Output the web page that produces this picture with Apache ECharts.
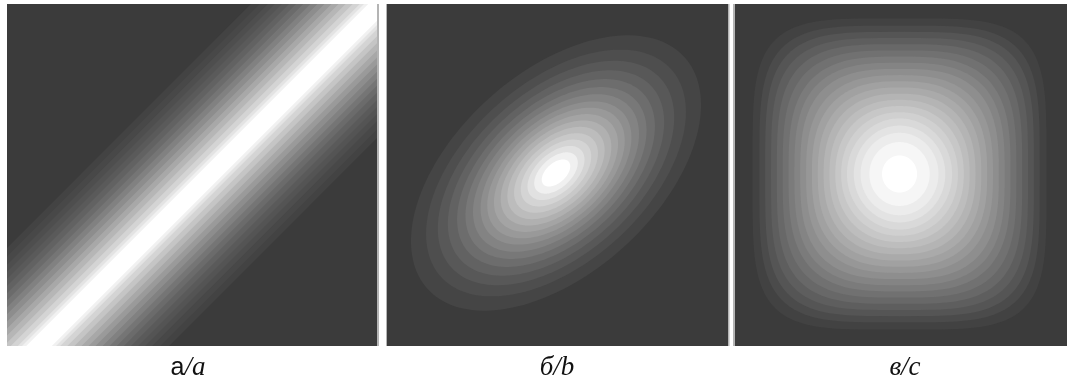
<!DOCTYPE html>
<html>
<head>
<meta charset="utf-8">
<script src="https://cdn.jsdelivr.net/npm/echarts@6/dist/echarts.min.js"></script>
<style>
html,body{margin:0;padding:0;background:#ffffff;}
#chart{width:1067px;height:387px;}
</style>
</head>
<body>
<div id="chart"></div>
<script>
// ---- data (panel units: px inside each panel, y downward) ----
const panelCyrillic = ['а', 'б', 'в'];
const panelLatin = ['a', 'b', 'c'];
const panelWidths = [371, 341, 341];
const panelHeight = 342;

// panel a: straight ridge along the diagonal, level half-widths (perpendicular)
const ridgeCenter = 374; // value of x + y along the ridge crest
const ridgeHalfWidths = [92, 86, 80, 75, 70, 65, 60, 55, 50, 45, 40, 35, 30, 25, 20, 15, 12, 9];
const ridgeGrays = [67, 72, 78, 84, 90, 98, 107, 117, 129, 141, 154, 168, 182, 197, 212, 227, 241, 255];

// panel b: tilted elliptic peak, semi-major axis of each level
const ellipseCenter = [169, 169];
const ellipseAngle = 42;      // degrees above horizontal
const ellipseRatio = 0.58;    // minor / major
const ellipseSemiMajor = [173, 155, 141, 129, 118, 108, 99, 90, 82, 74, 66, 58, 50, 42, 34, 26, 17];
const ellipseGrays = [69, 78, 88, 98, 109, 120, 131, 142, 153, 164, 176, 188, 200, 212, 225, 240, 255];

// panel c: rounded-square peak, horizontal half-width and squareness of each level
const squareCenter = [169, 170];
const squareAspect = 1.03;
const squareHalfWidths = [151, 144, 138, 132, 126, 120, 114, 108, 102, 96, 90, 84, 78, 72, 66, 60, 54, 47, 40, 31, 18];
const squareExponents = [4.4, 4.1, 3.9, 3.7, 3.5, 3.3, 3.1, 3.0, 2.9, 2.7, 2.6, 2.5, 2.4, 2.3, 2.2, 2.1, 2.0, 2.0, 2.0, 2.0, 2.0];
const squareGrays = [66, 75, 85, 94, 104, 113, 123, 132, 142, 151, 161, 170, 180, 189, 199, 208, 217, 227, 236, 246, 255];

const bgColor = '#3b3b3b';
const gray = g => 'rgb(' + g + ',' + g + ',' + g + ')';

const chart = echarts.init(document.getElementById('chart'), null, {renderer: 'canvas'});

const gridLefts = [7, 387, 735];
const grids = gridLefts.map((l, i) => ({
  left: l, top: 4, width: panelWidths[i], height: panelHeight,
  show: true, backgroundColor: bgColor, borderWidth: 0, containLabel: false
}));
const xAxes = panelWidths.map((w, i) => ({type: 'value', gridIndex: i, min: 0, max: w, show: false}));
const yAxes = panelWidths.map((w, i) => ({type: 'value', gridIndex: i, min: 0, max: panelHeight, inverse: true, show: false}));

function ridgeItem(params, api) {
  const k = api.value(0);
  const d = ridgeHalfWidths[k] * Math.SQRT2;
  const lo = ridgeCenter - d, hi = ridgeCenter + d;
  const pts = [[-600, lo + 600], [1000, lo - 1000], [1000, hi - 1000], [-600, hi + 600]].map(p => api.coord(p));
  return {type: 'polygon', shape: {points: pts}, style: {fill: gray(ridgeGrays[k])}};
}
function ellipseItem(params, api) {
  const k = api.value(0);
  const a = ellipseSemiMajor[k], b = a * ellipseRatio;
  const th = ellipseAngle * Math.PI / 180;
  const pts = [];
  for (let i = 0; i < 160; i++) {
    const t = i / 160 * Math.PI * 2;
    const lx = a * Math.cos(t), ly = b * Math.sin(t);
    const x = ellipseCenter[0] + lx * Math.cos(th) - ly * Math.sin(th);
    const y = ellipseCenter[1] - (lx * Math.sin(th) + ly * Math.cos(th));
    pts.push(api.coord([x, y]));
  }
  return {type: 'polygon', shape: {points: pts}, style: {fill: gray(ellipseGrays[k])}};
}
function squareItem(params, api) {
  const k = api.value(0);
  const hx = squareHalfWidths[k], hy = hx * squareAspect, p = squareExponents[k];
  const pts = [];
  for (let i = 0; i < 200; i++) {
    const t = i / 200 * Math.PI * 2;
    const c = Math.cos(t), s = Math.sin(t);
    const x = squareCenter[0] + hx * Math.sign(c) * Math.pow(Math.abs(c), 2 / p);
    const y = squareCenter[1] + hy * Math.sign(s) * Math.pow(Math.abs(s), 2 / p);
    pts.push(api.coord([x, y]));
  }
  return {type: 'polygon', shape: {points: pts}, style: {fill: gray(squareGrays[k])}};
}

const idx = arr => arr.map((_, i) => [i]);

const series = [
  {type: 'custom', xAxisIndex: 0, yAxisIndex: 0, clip: true, renderItem: ridgeItem, data: idx(ridgeHalfWidths), silent: true},
  {type: 'custom', xAxisIndex: 1, yAxisIndex: 1, clip: true, renderItem: ellipseItem, data: idx(ellipseSemiMajor), silent: true},
  {type: 'custom', xAxisIndex: 2, yAxisIndex: 2, clip: true, renderItem: squareItem, data: idx(squareHalfWidths), silent: true}
];

const labelCenters = [188, 557, 905];
const labels = panelCyrillic.map((c, i) => ({
  type: 'text',
  x: labelCenters[i], y: 368,
  style: {
    text: '{cy' + (i === 0 ? 'S' : 'I') + '|' + c + '}{la|/' + panelLatin[i] + '}',
    align: 'center', verticalAlign: 'middle',
    rich: {
      cyS: {fontFamily: 'Liberation Sans', fontSize: 25, fill: '#111', fontWeight: 'normal'},
      cyI: {fontFamily: 'Liberation Serif', fontStyle: 'italic', fontSize: 27, fill: '#111'},
      la: {fontFamily: 'Liberation Serif', fontStyle: 'italic', fontSize: 27, fill: '#111'}
    }
  }
}));

const edges = [
  {x: 377, w: 2}, {x: 386, w: 1}, {x: 728, w: 1.5}, {x: 733, w: 2}
].map(e => ({type: 'rect', shape: {x: e.x, y: 4, width: e.w, height: panelHeight}, style: {fill: '#b4b4b4'}, z: 10}));

chart.setOption({
  animation: false,
  backgroundColor: '#ffffff',
  grid: grids,
  xAxis: xAxes,
  yAxis: yAxes,
  series: series,
  graphic: labels.concat(edges)
});
</script>
</body>
</html>
